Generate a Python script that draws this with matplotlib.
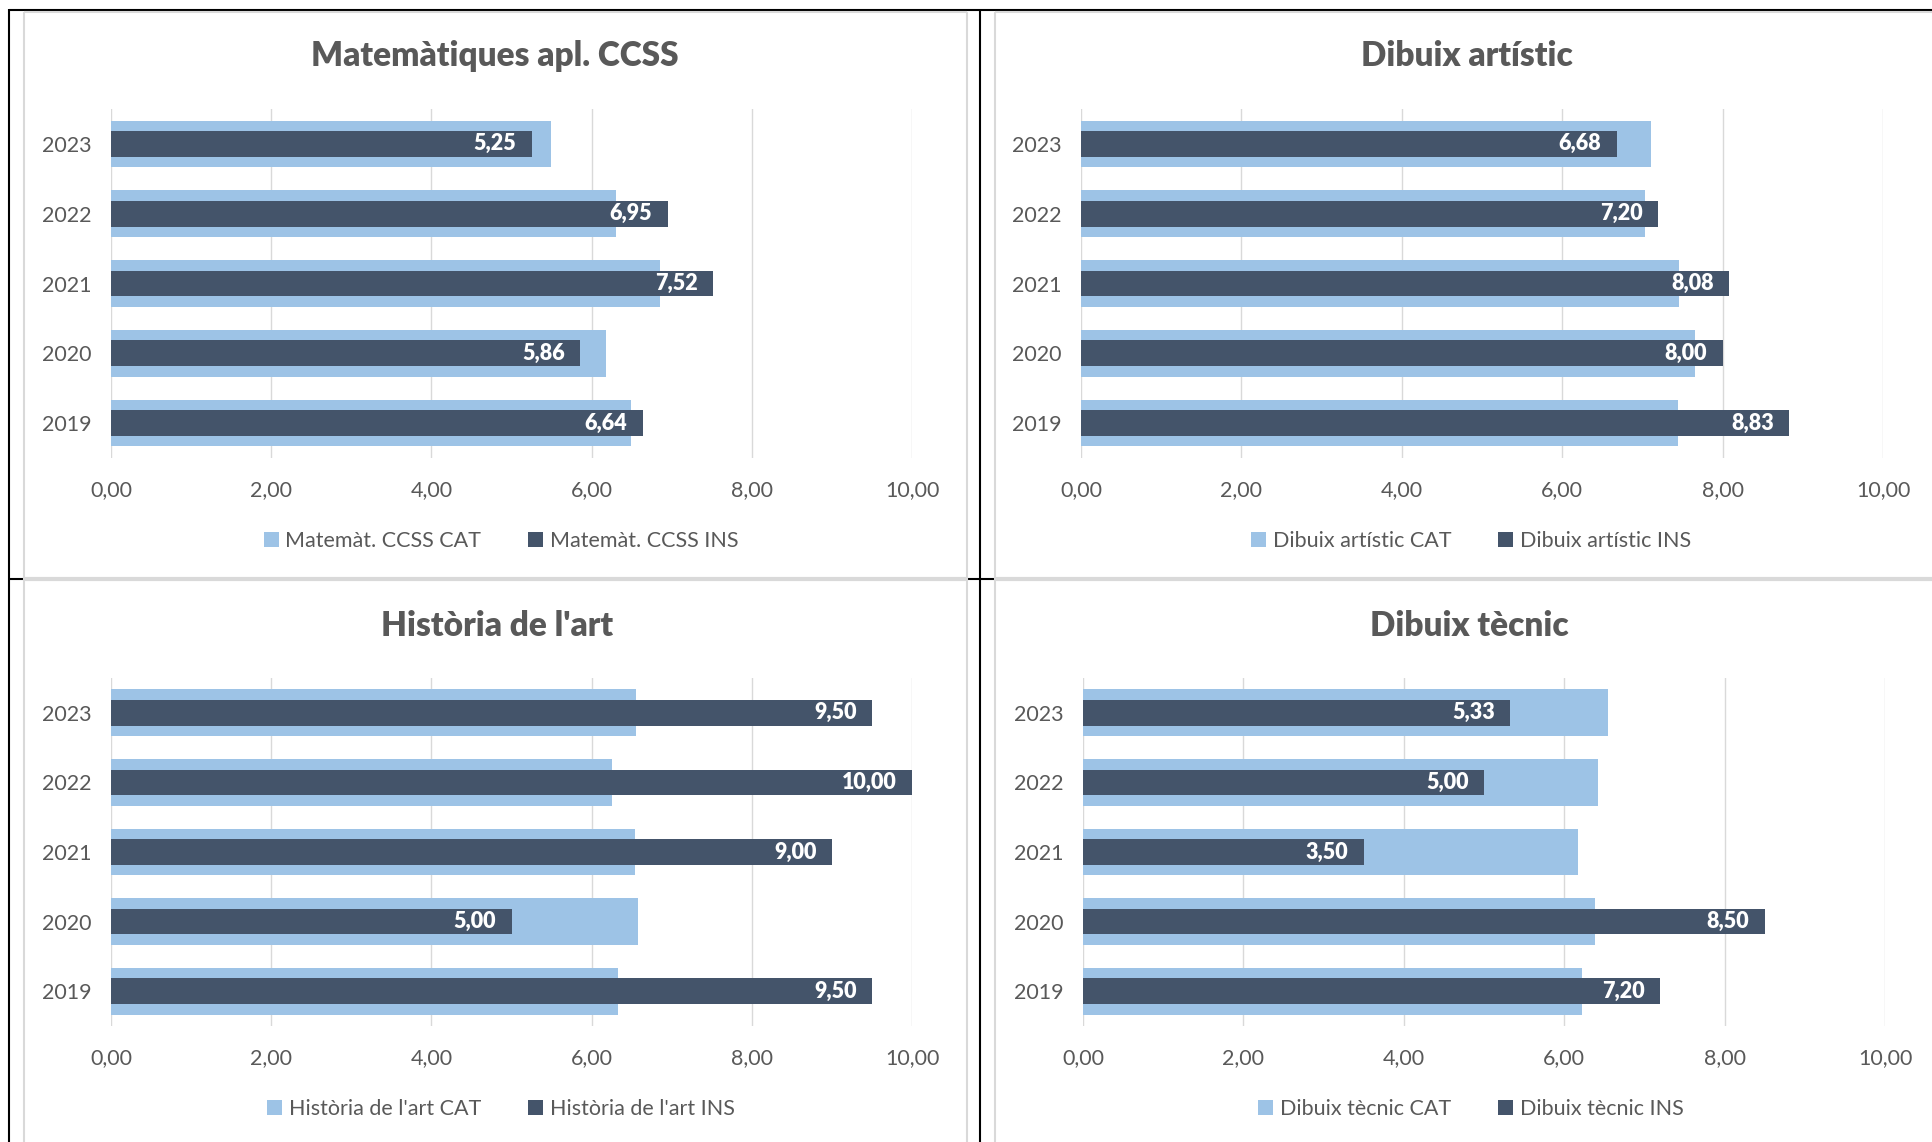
# Bar charts comparing PAU marks: school (INS) against Catalonia (CAT)
# Four subjects, years 2019-2023, drawn in a 2x2 grid like the Excel sheet

import matplotlib
matplotlib.use('Agg')
import matplotlib.pyplot as plt
from matplotlib.lines import Line2D

plt.rcParams['font.family'] = ['Lato', 'DejaVu Sans']

# Data
years = ['2019', '2020', '2021', '2022', '2023']

mat_cat = [6.49, 6.18, 6.86, 6.31, 5.49]
mat_ins = [6.64, 5.86, 7.52, 6.95, 5.25]

dib_art_cat = [7.44, 7.65, 7.46, 7.03, 7.11]
dib_art_ins = [8.83, 8.00, 8.08, 7.20, 6.68]

hist_cat = [6.33, 6.58, 6.54, 6.26, 6.56]
hist_ins = [9.50, 5.00, 9.00, 10.00, 9.50]

dib_tec_cat = [6.22, 6.39, 6.17, 6.42, 6.55]
dib_tec_ins = [7.20, 8.50, 3.50, 5.00, 5.33]

titles = ['Matemàtiques apl. CCSS', 'Dibuix artístic',
          "Història de l'art", 'Dibuix tècnic']
legend_names = ['Matemàt. CCSS', 'Dibuix artístic',
                "Història de l'art", 'Dibuix tècnic']
x_ticks = [0, 2, 4, 6, 8, 10]

# Colours
CAT_COLOR = '#9DC3E6'
INS_COLOR = '#44546A'
TEXT_COLOR = '#595959'
GRID_COLOR = '#D9D9D9'

W, H = 1932, 1142
fig = plt.figure(figsize=(W / 100, H / 100), dpi=100)


def fx(x):
    return x / W


def fy(y):
    return 1 - y / H


def fmt(v):
    return f'{v:.2f}'.replace('.', ',')


# panel layout in pixels: axes left, axes right, axes top, axes bottom,
# title centre x, title y, legend centre x, legend y
panels = [
    (111, 912, 109, 458, 495, 56, 501, 541),
    (1081, 1883, 109, 458, 1467, 56, 1471, 541),
    (111, 912, 678, 1026, 497, 626, 501, 1109),
    (1083, 1885, 678, 1026, 1469, 626, 1471, 1109),
]
series = [(mat_cat, mat_ins), (dib_art_cat, dib_art_ins),
          (hist_cat, hist_ins), (dib_tec_cat, dib_tec_ins)]

for i in range(4):
    left, right, top, bottom, tx, ty, lx, ly = panels[i]
    cat, ins = series[i]
    ax = fig.add_axes([fx(left), fy(bottom), (right - left) / W,
                       (bottom - top) / H])
    pos = range(len(years))
    b1 = ax.barh(pos, cat, height=0.67, color=CAT_COLOR,
                 label=legend_names[i] + ' CAT', zorder=2)
    b2 = ax.barh(pos, ins, height=0.37, color=INS_COLOR,
                 label=legend_names[i] + ' INS', zorder=3)
    # data labels inside the end of the INS bars
    for p, v in zip(pos, ins):
        ax.annotate(fmt(v), (v, p), xytext=(-11, 0),
                    textcoords='offset points', ha='right', va='center',
                    color='white', fontsize=15.5, fontweight='heavy',
                    zorder=4)
    ax.set_xlim(0, 10)
    ax.set_ylim(-0.5, 4.5)
    ax.set_yticks(list(pos))
    ax.set_yticklabels(years)
    ax.set_xticks(x_ticks)
    ax.set_xticklabels([fmt(t) for t in x_ticks])
    ax.tick_params(axis='x', length=0, pad=16, labelsize=15.5,
                   labelcolor=TEXT_COLOR)
    ax.tick_params(axis='y', length=0, pad=14, labelsize=15.5,
                   labelcolor=TEXT_COLOR)
    ax.grid(axis='x', color=GRID_COLOR, linewidth=1)
    ax.set_axisbelow(True)
    for s in ax.spines.values():
        s.set_visible(False)
    fig.text(fx(tx), fy(ty), titles[i], ha='center', va='center',
             fontsize=24, fontweight='heavy', color=TEXT_COLOR)
    ax.legend(handles=[b1, b2], loc='center', ncol=2, frameon=False,
              bbox_to_anchor=(fx(lx), fy(ly)), bbox_transform=fig.transFigure,
              fontsize=15.5, labelcolor=TEXT_COLOR, handlelength=0.7,
              handleheight=0.7, handletextpad=0.3, columnspacing=2.2)


# Frame lines around the panels (black sheet lines and grey chart borders)
def line(x1, y1, x2, y2, color, lw):
    fig.add_artist(Line2D([fx(x1), fx(x2)], [fy(y1), fy(y2)],
                          transform=fig.transFigure, color=color,
                          linewidth=lw, solid_capstyle='butt'))


line(9, 9.5, W, 9.5, 'black', 1.5)
line(9, 9, 9, H, 'black', 1.5)
line(980, 9, 980, H, 'black', 1.5)
line(9, 579, 24, 579, 'black', 1.5)
line(967, 579, 995, 579, 'black', 1.5)

line(24, 12, 24, H, GRID_COLOR, 1.5)
line(24, 12, 967, 12, GRID_COLOR, 1.5)
line(967, 12, 967, H, GRID_COLOR, 1.5)
line(24, 579, 967, 579, GRID_COLOR, 3)
line(995, 12, 995, H, GRID_COLOR, 1.5)
line(995, 12, W, 12, GRID_COLOR, 1.5)
line(995, 579, W, 579, GRID_COLOR, 3)

fig.savefig('out.png', dpi=100)
